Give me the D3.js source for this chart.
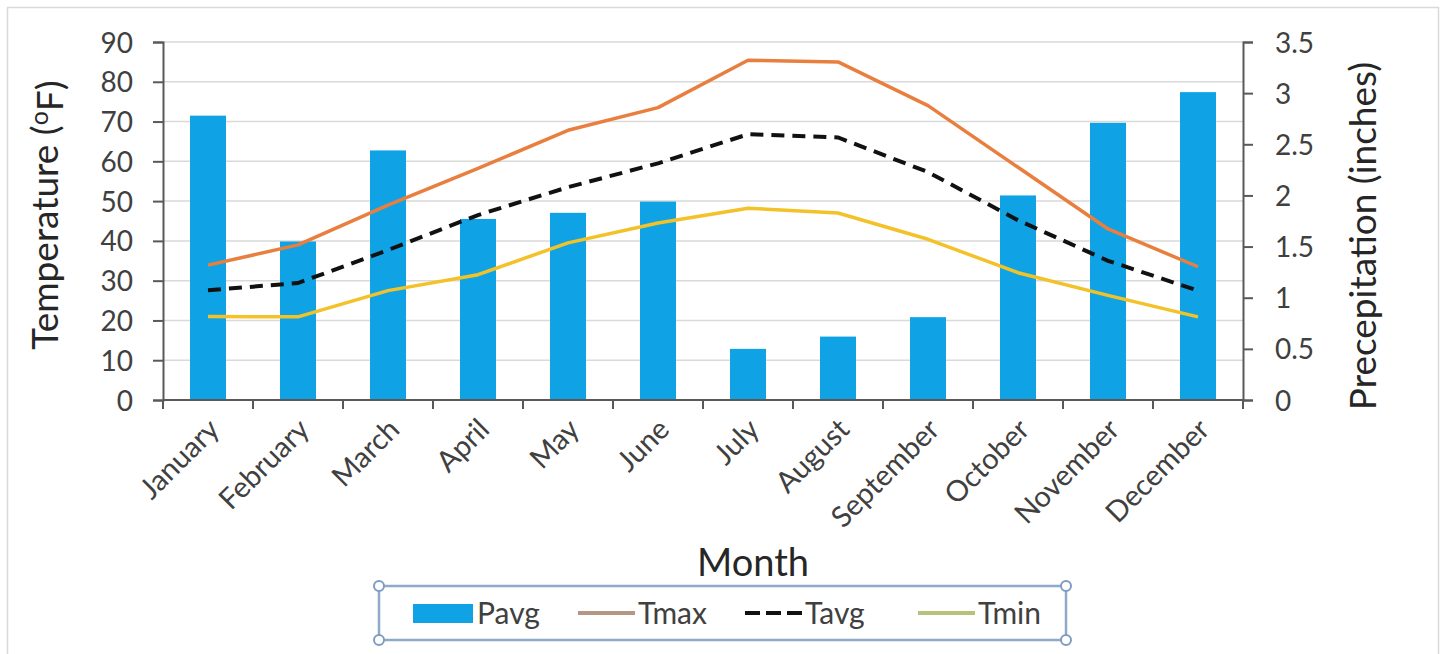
<!DOCTYPE html>
<html>
<head>
<meta charset="utf-8">
<script src="https://cdn.jsdelivr.net/npm/d3@7"></script>
<style>
  body { margin: 0; background: #fff; }
  text { font-family: Lato, "Open Sans", sans-serif; }
</style>
</head>
<body>
<svg id="chart"></svg>
<script>
const width = 1444, height = 654;
const plot = { left: 163, right: 1243, top: 42, bottom: 400 };

// Data
const months = ["January", "February", "March", "April", "May", "June",
                "July", "August", "September", "October", "November", "December"];
const pavg = [2.78, 1.55, 2.44, 1.77, 1.83, 1.94, 0.50, 0.62, 0.81, 2.00, 2.71, 3.01];
const tmax = [33.9, 39.0, 49.0, 58.2, 67.8, 73.5, 85.4, 85.0, 74.0, 58.5, 43.0, 33.5];
const tavg = [27.6, 29.4, 37.7, 46.5, 53.5, 59.5, 66.8, 66.0, 57.3, 45.2, 35.0, 27.5];
const tmin = [21.0, 20.9, 27.5, 31.5, 39.5, 44.5, 48.2, 47.0, 40.4, 32.0, 26.3, 20.9];
const tempTicks = [0, 10, 20, 30, 40, 50, 60, 70, 80, 90];
const precipTicks = [0, 0.5, 1, 1.5, 2, 2.5, 3, 3.5];
const legendItems = ["Pavg", "Tmax", "Tavg", "Tmin"];

const svg = d3.select("#chart")
    .attr("width", width)
    .attr("height", height);

// Outer chart frame
svg.append("rect")
    .attr("x", 7.5).attr("y", 7.5)
    .attr("width", 1431).attr("height", 660)
    .attr("fill", "#fff")
    .attr("stroke", "#d9d9d9")
    .attr("stroke-width", 1.5);

// Scales
const xScale = d3.scaleBand()
    .domain(months)
    .range([plot.left, plot.right])
    .paddingInner(0.6)
    .paddingOuter(0.3);
const step = xScale.step();
const bw = xScale.bandwidth();
const cx = m => xScale(m) + bw / 2;

const yTemp = d3.scaleLinear().domain([0, 90]).range([plot.bottom, plot.top]);
const yPrecip = d3.scaleLinear().domain([0, 3.5]).range([plot.bottom, plot.top]);

// Gridlines
svg.append("g")
    .selectAll("line")
    .data(tempTicks.slice(1))
    .enter().append("line")
    .attr("x1", plot.left).attr("x2", plot.right)
    .attr("y1", d => yTemp(d)).attr("y2", d => yTemp(d))
    .attr("stroke", "#d9d9d9")
    .attr("stroke-width", 1.5);

// Bars
svg.append("g")
    .selectAll("rect")
    .data(months)
    .enter().append("rect")
    .attr("x", d => xScale(d))
    .attr("y", (d, i) => yPrecip(pavg[i]))
    .attr("width", bw)
    .attr("height", (d, i) => plot.bottom - yPrecip(pavg[i]))
    .attr("fill", "#0fa3e6");

// Lines
const line = vals => d3.line()
    .x((d, i) => cx(months[i]))
    .y(d => yTemp(d))(vals);

svg.append("path")
    .attr("d", line(tmax))
    .attr("fill", "none")
    .attr("stroke", "#e97f3e")
    .attr("stroke-width", 3.5)
    .attr("stroke-linejoin", "round");

svg.append("path")
    .attr("d", line(tmin))
    .attr("fill", "none")
    .attr("stroke", "#f3c229")
    .attr("stroke-width", 3.5)
    .attr("stroke-linejoin", "round");

svg.append("path")
    .attr("d", line(tavg))
    .attr("fill", "none")
    .attr("stroke", "#111")
    .attr("stroke-width", 4)
    .attr("stroke-dasharray", "13,8");

// Left axis
const leftAxis = svg.append("g")
    .attr("transform", `translate(${plot.left},0)`)
    .call(d3.axisLeft(yTemp).tickValues(tempTicks).tickSize(10).tickPadding(20));
leftAxis.select(".domain").attr("stroke", "#595959").attr("stroke-width", 2);
leftAxis.selectAll(".tick line").attr("stroke", "#595959").attr("stroke-width", 2);
leftAxis.selectAll("text")
    .style("font-size", "28px")
    .attr("fill", "#404040")
    .attr("dy", "0.36em");

// Right axis
const rightAxis = svg.append("g")
    .attr("transform", `translate(${plot.right},0)`)
    .call(d3.axisRight(yPrecip).tickValues(precipTicks).tickSize(10).tickPadding(22)
        .tickFormat(d3.format("~g")));
rightAxis.select(".domain").attr("stroke", "#595959").attr("stroke-width", 2);
rightAxis.selectAll(".tick line").attr("stroke", "#595959").attr("stroke-width", 2);
rightAxis.selectAll("text")
    .style("font-size", "28px")
    .attr("fill", "#404040")
    .attr("dy", "0.36em");

// Bottom axis line and category boundary ticks
svg.append("line")
    .attr("x1", plot.left).attr("x2", plot.right)
    .attr("y1", plot.bottom).attr("y2", plot.bottom)
    .attr("stroke", "#595959").attr("stroke-width", 2);

svg.append("g")
    .selectAll("line")
    .data(d3.range(months.length + 1))
    .enter().append("line")
    .attr("x1", i => plot.left + i * step)
    .attr("x2", i => plot.left + i * step)
    .attr("y1", plot.bottom).attr("y2", plot.bottom + 9)
    .attr("stroke", "#595959").attr("stroke-width", 2);

// Month labels
svg.append("g")
    .selectAll("text")
    .data(months)
    .enter().append("text")
    .attr("transform", d => `translate(${cx(d) + 6},${plot.bottom + 24}) rotate(-45)`)
    .attr("text-anchor", "end")
    .attr("dy", "0.35em")
    .style("font-size", "29px")
    .attr("fill", "#404040")
    .text(d => d);

// Axis titles
svg.append("text")
    .attr("x", 753).attr("y", 576)
    .attr("text-anchor", "middle")
    .style("font-size", "38px")
    .attr("fill", "#262626")
    .text("Month");

const leftTitle = svg.append("text")
    .attr("transform", "translate(58,215) rotate(-90)")
    .attr("text-anchor", "middle")
    .style("font-size", "37px")
    .attr("fill", "#262626");
leftTitle.append("tspan").text("Temperature (");
leftTitle.append("tspan").attr("dy", "-0.4em").style("font-size", "25px").text("o");
leftTitle.append("tspan").attr("dy", "0.4em").text("F)");

svg.append("text")
    .attr("transform", "translate(1363,236) rotate(-90)")
    .attr("text-anchor", "middle")
    .attr("dy", "0.35em")
    .style("font-size", "37px")
    .attr("fill", "#262626")
    .text("Precepitation (inches)");

// Legend box (selected, with handles)
const lg = { x: 379, y: 586, w: 687, h: 54 };
svg.append("rect")
    .attr("x", lg.x).attr("y", lg.y)
    .attr("width", lg.w).attr("height", lg.h)
    .attr("fill", "#fff")
    .attr("stroke", "#8fa9c8")
    .attr("stroke-width", 2.5);
svg.append("g")
    .selectAll("circle")
    .data([[0, 0], [1, 0], [0, 1], [1, 1]])
    .enter().append("circle")
    .attr("cx", d => lg.x + d[0] * lg.w)
    .attr("cy", d => lg.y + d[1] * lg.h)
    .attr("r", 5)
    .attr("fill", "#fff")
    .attr("stroke", "#7f9cc2")
    .attr("stroke-width", 2);

const legendX = { Pavg: 413, Tmax: 578, Tavg: 745, Tmin: 918 };
const legendColor = { Tmax: "#b39783", Tavg: "#111", Tmin: "#b9c07a" };
const ly = 613;
const legend = svg.append("g")
    .selectAll("g")
    .data(legendItems)
    .enter().append("g")
    .attr("transform", d => `translate(${legendX[d]},${ly})`);

legend.filter(d => d === "Pavg").append("rect")
    .attr("x", 0).attr("y", -9)
    .attr("width", 60).attr("height", 19)
    .attr("fill", "#0fa3e6");
legend.filter(d => d !== "Pavg").append("line")
    .attr("x1", 0).attr("x2", 57)
    .attr("y1", 0).attr("y2", 0)
    .attr("stroke", d => legendColor[d])
    .attr("stroke-width", 4)
    .attr("stroke-dasharray", d => d === "Tavg" ? "15,6" : null);
legend.append("text")
    .attr("x", d => d === "Pavg" ? 64 : 60)
    .attr("dy", "0.36em")
    .style("font-size", "30px")
    .attr("fill", "#404040")
    .text(d => d);
</script>
</body>
</html>
